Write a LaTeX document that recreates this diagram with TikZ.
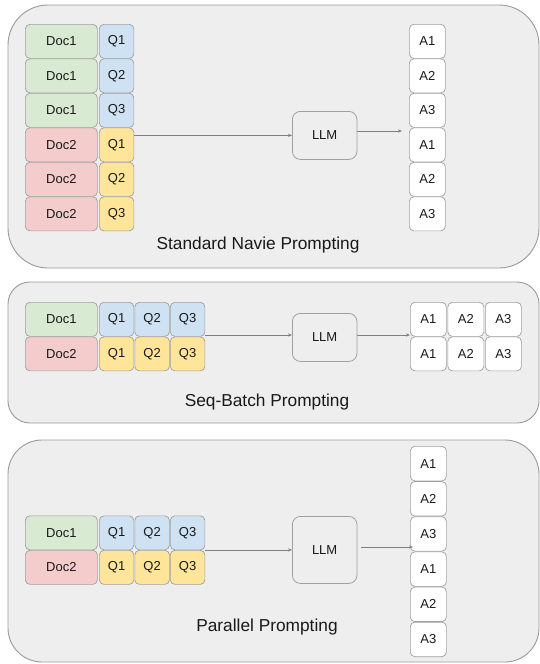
\documentclass[tikz,border=0pt]{standalone}
\usepackage{fontspec}
\setmainfont{Liberation Sans}
\usetikzlibrary{arrows.meta}

\definecolor{panelfill}{HTML}{EEEEEE}
\definecolor{panelline}{HTML}{9A9A9A}
\definecolor{cellline}{HTML}{A0A0A0}
\definecolor{greenfill}{HTML}{D9EAD3}
\definecolor{redfill}{HTML}{F4CCCC}
\definecolor{bluefill}{HTML}{CFE2F3}
\definecolor{yellowfill}{HTML}{FFE599}
\definecolor{arrowline}{HTML}{808080}

\tikzset{
  panel/.style={draw=panelline, fill=panelfill, line width=0.9pt, anchor=north west,
    inner sep=0pt, outer sep=0pt},
  cell/.style={draw=cellline, line width=0.7pt, rounded corners=4.5pt, anchor=north west,
    inner sep=0pt, minimum height=34pt, text=black!90,
    font=\fontsize{13}{15}\selectfont},
  docg/.style={cell, minimum width=72pt, fill=greenfill},
  docr/.style={cell, minimum width=72pt, fill=redfill},
  qb/.style={cell, minimum width=34.5pt, fill=bluefill},
  qy/.style={cell, minimum width=34.5pt, fill=yellowfill},
  ans/.style={cell, minimum width=36pt, fill=white},
  llmbox/.style={draw=cellline, fill=panelfill, line width=0.8pt, rounded corners=8pt,
    anchor=north west, inner sep=0pt, minimum width=64.5pt, text=black!90,
    font=\fontsize{13}{15}\selectfont},
  caption/.style={anchor=base, inner sep=0pt, text=black!90,
    font=\fontsize{17.3}{20}\selectfont},
  arr/.style={draw=arrowline, line width=0.6pt,
    -{Stealth[length=4pt,width=3.2pt]}},
}

\begin{document}
\begin{tikzpicture}[x=1pt,y=-1pt]
\useasboundingbox (0,0) rectangle (540,664);

% ---------- Standard naive prompting ----------
\node[panel, minimum width=531pt, minimum height=263pt, rounded corners=40pt] (p1) at (8,5) {};
\node[docg] (s1d1) at (25,24)    {Doc1}; \node[qb] (s1q1) at (99,24)    {Q1};
\node[docg] (s1d2) at (25,58.5)  {Doc1}; \node[qb] (s1q2) at (99,58.5)  {Q2};
\node[docg] (s1d3) at (25,93)    {Doc1}; \node[qb] (s1q3) at (99,93)    {Q3};
\node[docr] (s1d4) at (25,127.5) {Doc2}; \node[qy] (s1q4) at (99,127.5) {Q1};
\node[docr] (s1d5) at (25,162)   {Doc2}; \node[qy] (s1q5) at (99,162)   {Q2};
\node[docr] (s1d6) at (25,196.5) {Doc2}; \node[qy] (s1q6) at (99,196.5) {Q3};
\node[llmbox, minimum height=48pt] (llm1) at (292,111) {LLM};
\node[ans] (s1a1) at (409,24)    {A1};
\node[ans] (s1a2) at (409,58.5)  {A2};
\node[ans] (s1a3) at (409,93)    {A3};
\node[ans] (s1a4) at (409,127.5) {A1};
\node[ans] (s1a5) at (409,162)   {A2};
\node[ans] (s1a6) at (409,196.5) {A3};
\draw[arr] (llm1.west -| s1q4.east) -- (llm1.west);
\coordinate (t1) at (402,131);
\draw[arr] (llm1.east |- t1) -- (t1);
\node[caption] (c1) at (258,249) {Standard Navie Prompting};

% ---------- Seq-batch prompting ----------
\node[panel, minimum width=531pt, minimum height=141pt, rounded corners=22pt] (p2) at (8,282) {};
\node[docg] (s2d1) at (25,302)   {Doc1};
\node[qb] (s2q11) at (99,302)    {Q1};
\node[qb] (s2q12) at (134.5,302) {Q2};
\node[qb] (s2q13) at (170,302)   {Q3};
\node[docr] (s2d2) at (25,336.5) {Doc2};
\node[qy] (s2q21) at (99,336.5)    {Q1};
\node[qy] (s2q22) at (134.5,336.5) {Q2};
\node[qy] (s2q23) at (170,336.5)   {Q3};
\node[llmbox, minimum height=48pt] (llm2) at (292,313) {LLM};
\node[ans] (s2a11) at (410,302)   {A1};
\node[ans] (s2a12) at (447.5,302) {A2};
\node[ans] (s2a13) at (485,302)   {A3};
\node[ans] (s2a21) at (410,336.5)   {A1};
\node[ans] (s2a22) at (447.5,336.5) {A2};
\node[ans] (s2a23) at (485,336.5)   {A3};
\coordinate (u2) at (0,335);
\draw[arr] (s2q13.east |- u2) -- (llm2.west |- u2);
\draw[arr] (llm2.east |- u2) -- (s2a11.west |- u2);
\node[caption] (c2) at (267,406) {Seq-Batch Prompting};

% ---------- Parallel prompting ----------
\node[panel, minimum width=531pt, minimum height=222pt, rounded corners=34pt] (p3) at (8,440) {};
\node[docg] (s3d1) at (25,515.5)  {Doc1};
\node[qb] (s3q11) at (99,515.5)    {Q1};
\node[qb] (s3q12) at (134.5,515.5) {Q2};
\node[qb] (s3q13) at (170,515.5)   {Q3};
\node[docr] (s3d2) at (25,550)    {Doc2};
\node[qy] (s3q21) at (99,550)      {Q1};
\node[qy] (s3q22) at (134.5,550)   {Q2};
\node[qy] (s3q23) at (170,550)     {Q3};
\node[llmbox, minimum height=67pt] (llm3) at (292,516) {LLM};
\node[ans, minimum height=34.5pt] (s3a1) at (410,446)   {A1};
\node[ans, minimum height=34.5pt] (s3a2) at (410,481.2) {A2};
\node[ans, minimum height=34.5pt] (s3a3) at (410,516.3) {A3};
\node[ans, minimum height=34.5pt] (s3a4) at (410,551.5) {A1};
\node[ans, minimum height=34.5pt] (s3a5) at (410,586.7) {A2};
\node[ans, minimum height=34.5pt] (s3a6) at (410,621.8) {A3};
\draw[arr] (llm3.west -| s3q13.east) -- (llm3.west);
\coordinate (f3) at (361,547);
\coordinate (t3) at (413,547);
\draw[arr] (f3) -- (t3);
\node[caption] (c3) at (267,631) {Parallel Prompting};
\end{tikzpicture}
\end{document}
